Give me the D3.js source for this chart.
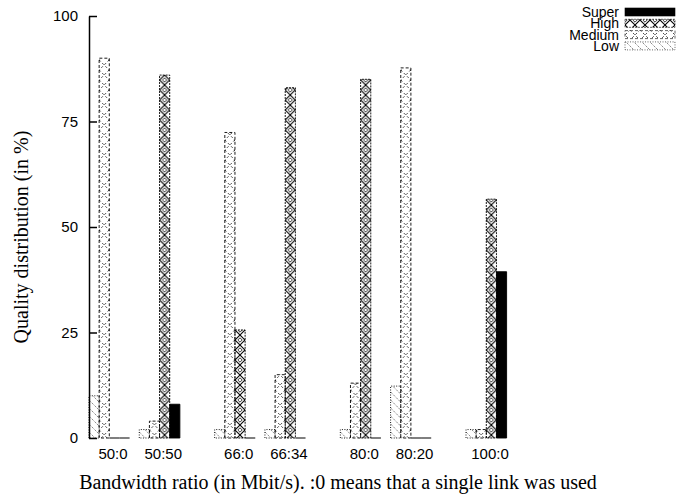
<!DOCTYPE html>
<html>
<head>
<meta charset="utf-8">
<script src="https://d3js.org/d3.v7.min.js"></script>
<style>
  body { margin: 0; background: #fff; }
  svg text { fill: #000; }
  .tick-label { font-family: "Liberation Sans", Arial, sans-serif; font-size: 15px; }
  .legend-label { font-family: "Liberation Sans", Arial, sans-serif; font-size: 14px; }
  .title { font-family: "Liberation Serif", "Times New Roman", serif; font-size: 20px; }
</style>
</head>
<body>
<div id="chart"></div>
<script>
// data
var ratios = ["50:0", "50:50", "66:0", "66:34", "80:0", "80:20", "100:0"];
var series = ["Low", "Medium", "High", "Super"];
var low    = [10, 2, 2, 2, 2, 12.3, 2];
var medium = [90, 4, 72.4, 15, 13, 87.7, 2];
var high   = [0, 86, 25.6, 83, 85, 0, 56.6];
var superQ = [0, 8, 0, 0, 0, 0, 39.4];
var yTicks = [0, 25, 50, 75, 100];

var values = { Low: low, Medium: medium, High: high, Super: superQ };

var svgWidth = 676, svgHeight = 496;

var svg = d3.select("#chart")
  .append("svg")
  .attr("width", svgWidth)
  .attr("height", svgHeight);

var defs = svg.append("defs");

// gnuplot-like fill patterns
var pLow = defs.append("pattern")
  .attr("id", "pat-Low").attr("patternUnits", "userSpaceOnUse")
  .attr("width", 8).attr("height", 8);
pLow.append("path").attr("d", "M0,0L8,8M-4,4L4,12M4,-4L12,4")
  .attr("stroke", "#333").attr("stroke-width", 0.8).attr("stroke-dasharray", "1,1.2");

var pMed = defs.append("pattern")
  .attr("id", "pat-Medium").attr("patternUnits", "userSpaceOnUse")
  .attr("width", 10).attr("height", 10);
pMed.append("path").attr("d", "M0,0L10,10M10,0L0,10")
  .attr("stroke", "#111").attr("stroke-width", 0.9).attr("stroke-dasharray", "2,2.5");

var pHigh = defs.append("pattern")
  .attr("id", "pat-High").attr("patternUnits", "userSpaceOnUse")
  .attr("width", 10).attr("height", 10);
pHigh.append("path").attr("d", "M0,0L10,10M10,0L0,10")
  .attr("stroke", "#000").attr("stroke-width", 1.1).attr("fill", "none");
pHigh.append("path").attr("d", "M5,-2.2L7.2,0L5,2.2L2.8,0ZM5,7.8L7.2,10L5,12.2L2.8,10Z")
  .attr("stroke", "#000").attr("stroke-width", 0.8).attr("fill", "none");

var fills = { Low: "url(#pat-Low)", Medium: "url(#pat-Medium)", High: "url(#pat-High)", Super: "#000" };
var dashes = { Low: "1,1.5", Medium: "3,2", High: "2,1", Super: null };

// groups come in pairs with a gap between pairs
var groupPos = ratios.map((r, i) => i + Math.floor(i / 2) * 0.5);

var x = d3.scaleLinear().domain([0, 7.5]).range([89, 466]);
var xInner = d3.scaleBand().domain(series).range([0, 40.6]).padding(0);
var y = d3.scaleLinear().domain([0, 100]).range([438, 16]);

// bars
series.forEach(function(s) {
  var g = svg.append("g").attr("class", "series-" + s);
  var bars = g.selectAll("g")
    .data(ratios.map((r, i) => ({ ratio: r, pos: groupPos[i], value: values[s][i] })))
    .enter()
    .append("g")
    .attr("transform", d => `translate(${x(d.pos) + xInner(s)}, 0)`);

  bars.append("path")
    .attr("d", d => `M0,${y(0)}V${y(d.value)}H${xInner.bandwidth()}V${y(0)}Z`)
    .attr("fill", fills[s])
    .attr("stroke", "#000")
    .attr("stroke-width", d => d.value === 0 ? 1.2 : 0.9)
    .attr("stroke-dasharray", d => d.value === 0 ? null : dashes[s]);
});

// y axis (ticks pointing inward, no bottom axis)
var leftAxis = d3.axisLeft(y).tickValues(yTicks).tickSizeInner(-8).tickSizeOuter(0).tickPadding(11);
var yAxis = svg.append("g")
  .attr("transform", "translate(89, 0)")
  .call(leftAxis);
yAxis.select(".domain").attr("stroke-width", 1.5);
yAxis.selectAll(".tick line").attr("stroke-width", 1.5);
yAxis.selectAll(".tick text").attr("class", "tick-label").attr("font-size", null).attr("font-family", null);

// x tick labels
svg.selectAll(".xlabel")
  .data(ratios)
  .enter()
  .append("text")
  .attr("class", "tick-label")
  .attr("x", (d, i) => x(groupPos[i]) + 24)
  .attr("y", 459)
  .attr("text-anchor", "middle")
  .text(d => d);

// axis titles
svg.append("text")
  .attr("class", "title")
  .attr("transform", "translate(28, 237) rotate(-90)")
  .attr("text-anchor", "middle")
  .text("Quality distribution (in %)");

svg.append("text")
  .attr("class", "title")
  .attr("x", 338)
  .attr("y", 489)
  .attr("text-anchor", "middle")
  .text("Bandwidth ratio (in Mbit/s). :0 means that a single link was used");

// legend
var legendOrder = ["Super", "High", "Medium", "Low"];
var legend = svg.append("g").attr("class", "legend");
legendOrder.forEach(function(s, i) {
  var ly = 12 + i * 11.3;
  legend.append("text")
    .attr("class", "legend-label")
    .attr("x", 619)
    .attr("y", ly + 5)
    .attr("text-anchor", "end")
    .text(s);
  legend.append("rect")
    .attr("x", 625)
    .attr("y", ly - 4)
    .attr("width", 50)
    .attr("height", 8)
    .attr("fill", fills[s])
    .attr("stroke", "#000")
    .attr("stroke-width", 0.6)
    .attr("stroke-dasharray", dashes[s]);
});
</script>
</body>
</html>
